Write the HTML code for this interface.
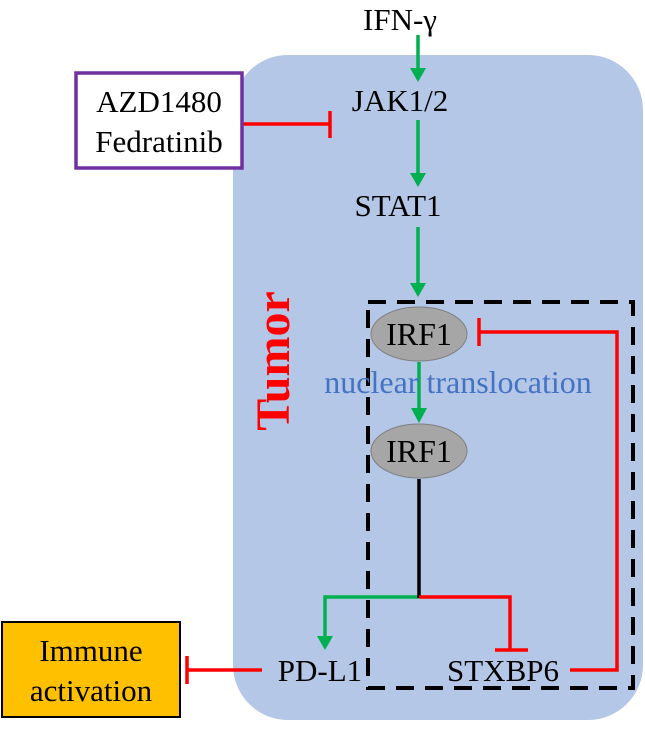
<!DOCTYPE html><html><head><style>body{margin:0;background:#fff}</style></head><body>
<svg width="645" height="733" viewBox="0 0 645 733" xmlns="http://www.w3.org/2000/svg" font-family="Liberation Serif, serif">
<rect x="233" y="55" width="410" height="665" rx="55" fill="#b4c7e7"/>
<rect x="368" y="302" width="265" height="386" fill="none" stroke="#000" stroke-width="4" stroke-dasharray="18,11"/>
<g fill="#000" font-size="31" text-anchor="middle">
<text x="400" y="30">IFN-γ</text>
<text x="400" y="111">JAK1/2</text>
<text x="398" y="216">STAT1</text>
<text x="320" y="681">PD-L1</text>
<text x="503" y="681">STXBP6</text>
</g>
<g stroke="#00b050" stroke-width="3.5" fill="#00b050">
<line x1="418" y1="35" x2="418" y2="70"/><polygon points="410,68 426,68 418,82" stroke="none"/>
<line x1="418" y1="120" x2="418" y2="175"/><polygon points="410,173 426,173 418,187" stroke="none"/>
<line x1="418" y1="227" x2="418" y2="285"/><polygon points="410,283 426,283 418,297" stroke="none"/>
<line x1="419" y1="362" x2="419" y2="410"/><polygon points="411,408 427,408 419,423" stroke="none"/>
<polyline points="419,597 325,597 325,638" fill="none"/><polygon points="317,636 333,636 325,650" stroke="none"/>
</g>
<ellipse cx="419" cy="334" rx="48" ry="27" fill="#a6a6a6" stroke="#7f7f7f"/>
<ellipse cx="419" cy="451" rx="48" ry="27" fill="#a6a6a6" stroke="#7f7f7f"/>
<g font-size="32" text-anchor="middle"><text x="419" y="345">IRF1</text><text x="419" y="462">IRF1</text></g>
<text x="458" y="393" font-size="32" fill="#4472c4" text-anchor="middle">nuclear translocation</text>
<line x1="419" y1="479" x2="419" y2="598" stroke="#000" stroke-width="3.5"/>
<g stroke="#ff0000" stroke-width="3.5" fill="none">
<polyline points="419,597 510,597 510,650"/><line x1="495" y1="650" x2="528" y2="650"/>
<polyline points="570,670 617,670 617,332 479,332"/><line x1="479" y1="318" x2="479" y2="346"/>
<line x1="242" y1="124" x2="330" y2="124"/><line x1="330" y1="111" x2="330" y2="138"/>
<line x1="187" y1="670" x2="262" y2="670"/><line x1="187" y1="656" x2="187" y2="684"/>
</g>
<rect x="76" y="73" width="166" height="95" fill="#fff" stroke="#7030a0" stroke-width="3.5"/>
<g font-size="31" text-anchor="middle"><text x="159" y="112">AZD1480</text><text x="159" y="152">Fedratinib</text></g>
<rect x="2" y="622" width="178" height="95" fill="#ffc000" stroke="#000" stroke-width="2"/>
<g font-size="31" text-anchor="middle"><text x="91" y="661">Immune</text><text x="91" y="701">activation</text></g>
<text transform="translate(289,361) rotate(-90)" font-size="48" font-weight="bold" fill="#ff0000" text-anchor="middle">Tumor</text>
</svg></body></html>
